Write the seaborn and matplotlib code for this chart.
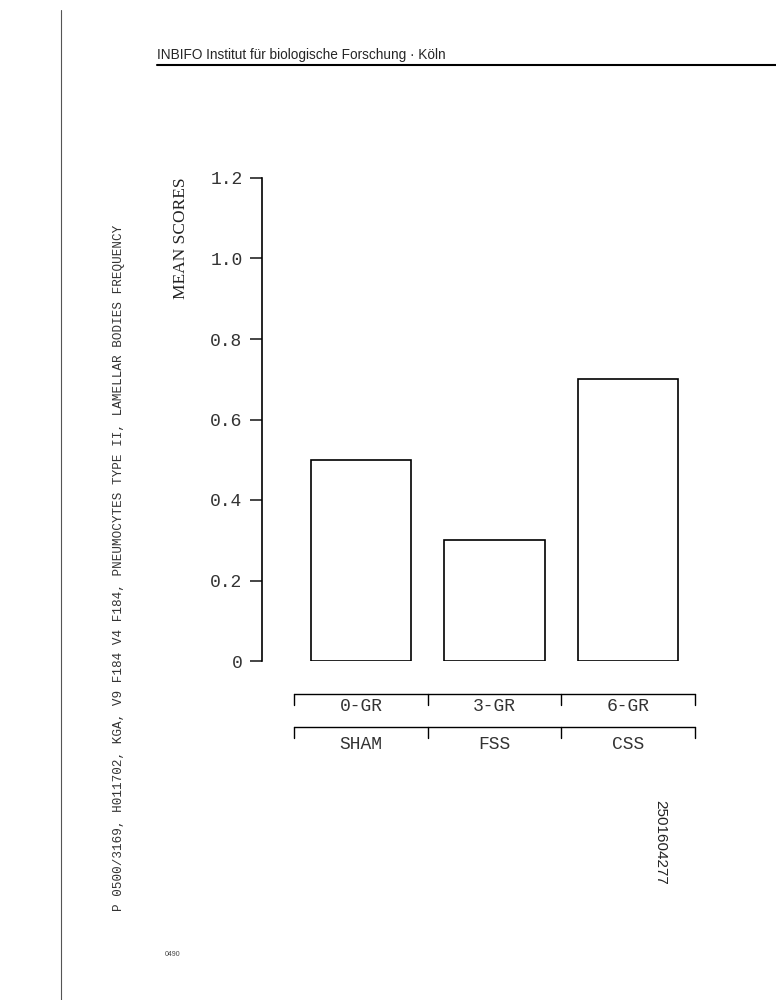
import numpy as np
import pandas as pd
import matplotlib
matplotlib.use("Agg")
import matplotlib.pyplot as plt
import matplotlib.transforms as mtransforms
import seaborn as sns

# data
groups = ["SHAM", "FSS", "CSS"]
doses = ["0-GR", "3-GR", "6-GR"]
mean_scores = [0.5, 0.3, 0.7]
yticks = [0, 0.2, 0.4, 0.6, 0.8, 1.0, 1.2]
ytick_labels = ["0", "0.2", "0.4", "0.6", "0.8", "1.0", "1.2"]

df = pd.DataFrame({"group": groups, "dose": doses, "score": mean_scores})

sns.set_style("white")
plt.rcParams["font.family"] = ["Liberation Mono", "DejaVu Sans Mono"]

fig = plt.figure(figsize=(7.76, 10), dpi=100)
ax = fig.add_axes([262 / 776, 1 - 661 / 1000, (695 - 262) / 776, 483 / 1000])

sns.barplot(data=df, x="group", y="score", order=groups, color="white",
            edgecolor="black", linewidth=1.2, width=0.75, ax=ax, errorbar=None)

ax.set_ylim(0, 1.2)
ax.set_xlim(-0.74, 2.5)
ax.set_yticks(yticks)
ax.set_yticklabels(ytick_labels, fontsize=13, color="#333333")
ax.set_xticks([])
ax.set_xlabel("")
ax.set_ylabel("")
for s in ["top", "right", "bottom"]:
    ax.spines[s].set_visible(False)
ax.spines["left"].set_linewidth(1.2)
ax.spines["left"].set_color("black")
ax.tick_params(axis="y", direction="out", length=9, width=1.2, pad=5, left=True)

# y label placed near the top, like the original
fig.text(181 / 776, 1 - 238 / 1000, "MEAN SCORES", rotation=90, ha="center",
         va="center", fontsize=12.5, family="Liberation Serif", color="#222222")

# two rows of group brackets below the bars
trans = mtransforms.blended_transform_factory(ax.transData, ax.transAxes)
edges = [-0.5, 0.5, 1.5, 2.5]
rows = [(doses, -0.0683, -0.091, -0.095), (groups, -0.1366, -0.159, -0.172)]
for labels, y_line, y_tick, y_text in rows:
    ax.plot([edges[0], edges[-1]], [y_line, y_line], color="black", lw=1.0,
            transform=trans, clip_on=False)
    for e in edges:
        ax.plot([e, e], [y_line, y_tick], color="black", lw=1.0,
                transform=trans, clip_on=False)
    for i, lab in enumerate(labels):
        ax.text(i, y_text, lab, ha="center", va="center", fontsize=13,
                color="#333333", transform=trans, clip_on=False)

# page furniture from the scanned report
fig.text(157 / 776, 1 - 55 / 1000, "INBIFO Institut für biologische Forschung · Köln",
         ha="left", va="center", fontsize=9.8, family="Liberation Sans")
fig.add_artist(plt.Line2D([157 / 776, 1.0], [1 - 65 / 1000, 1 - 65 / 1000],
                          color="black", lw=1.5))
fig.text(119 / 776, 1 - 568 / 1000,
         "P 0500/3169, H011702, KGA, V9 F184 V4 F184, PNEUMOCYTES TYPE II, LAMELLAR BODIES FREQUENCY",
         rotation=90, ha="center", va="center", fontsize=9.1, color="#333333")
fig.text(660 / 776, 1 - 842 / 1000, "2501604277", rotation=-90, ha="center",
         va="center", fontsize=11, family="Liberation Sans", color="#222222")
fig.text(165 / 776, 1 - 955 / 1000, "0490", ha="left", va="center", fontsize=5,
         family="Liberation Sans", color="#444444")
fig.add_artist(plt.Line2D([61 / 776, 61 / 776], [0, 0.99], color="#555555", lw=0.8))

fig.savefig("out.png", dpi=100)
